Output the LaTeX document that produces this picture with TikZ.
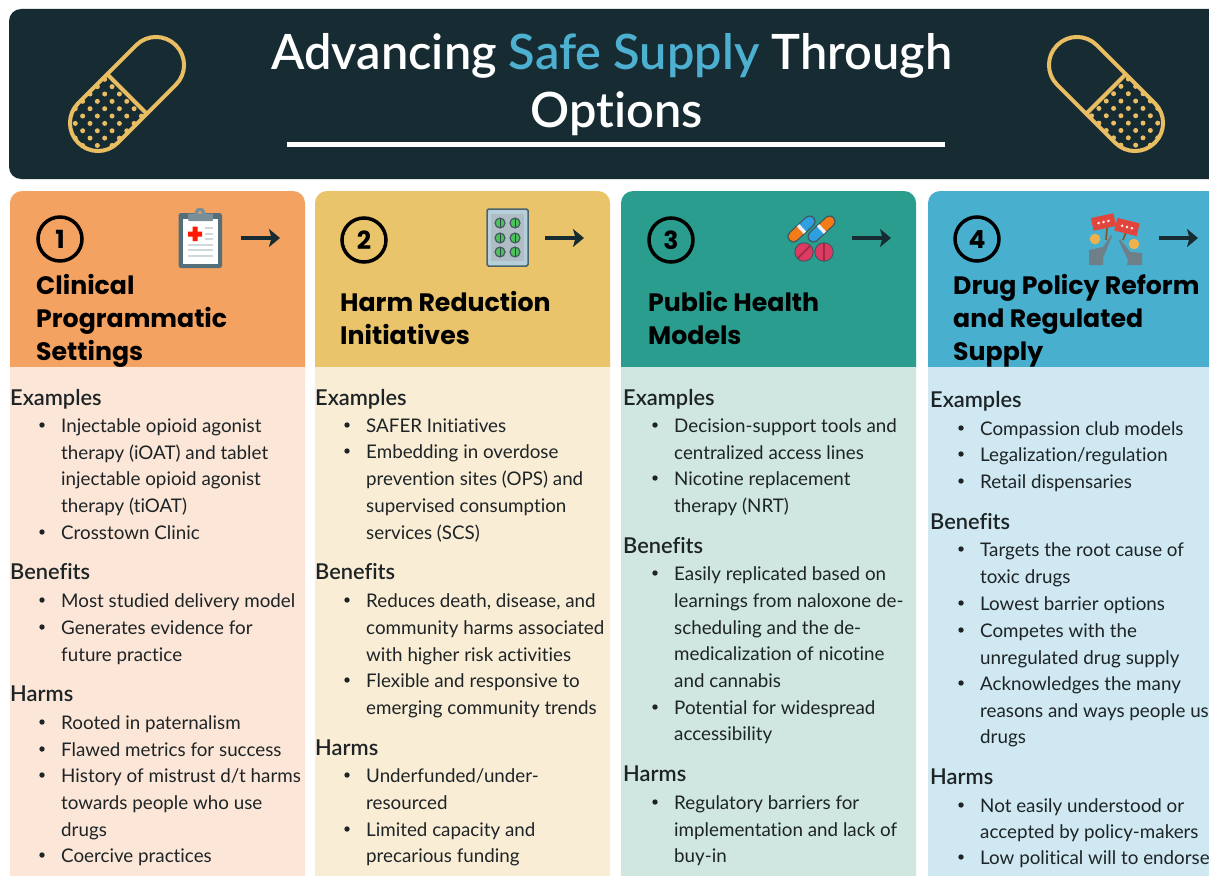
\documentclass[tikz,border=0pt]{standalone}
\usepackage{fontspec}
\setmainfont{Lato}[Ligatures=NoCommon]
\newfontfamily\medfont{Lato Semibold}[Ligatures=NoCommon]
\newfontfamily\popfont{Poppins}[BoldFont=Poppins Bold]
\definecolor{dark}{HTML}{172B33}
\definecolor{gold}{HTML}{E9BE62}
\definecolor{skyc}{HTML}{4DB0D0}
\definecolor{hA}{HTML}{F4A261}\definecolor{bA}{HTML}{FBE6D7}
\definecolor{hB}{HTML}{E9C46A}\definecolor{bB}{HTML}{F9EDD6}
\definecolor{hC}{HTML}{2A9D8F}\definecolor{bC}{HTML}{CFE6E1}
\definecolor{hD}{HTML}{48AFCF}\definecolor{bD}{HTML}{CFE8F1}
\definecolor{ink}{HTML}{1E2426}
\definecolor{slate}{HTML}{546E7A}
\definecolor{linegrey}{HTML}{CFD8DC}
\definecolor{crimson}{HTML}{DF3A62}
\definecolor{signred}{HTML}{E2453C}
\definecolor{bodygrey}{HTML}{6F7F88}
\definecolor{pillgreen}{HTML}{4CC35A}
\definecolor{capblue}{HTML}{2E9FE0}
\definecolor{caporange}{HTML}{F47B16}
\usetikzlibrary{arrows.meta}
\newcounter{tl}
\newcommand{\tl}[3]{\stepcounter{tl}\node[bodytext] (tl\arabic{tl}) at (#1,#2+7) {#3};}
\newcommand{\sect}[3]{\stepcounter{tl}\node[secttext] (tl\arabic{tl}) at (#1,#2+7) {#3};}
\newcommand{\bl}[3]{\fill[ink] (#1-19,#2) circle[radius=2.7pt];\tl{#1}{#2}{#3}}
\newcommand{\hd}[3]{\stepcounter{tl}\node[headtext] (tl\arabic{tl}) at (#1,#2+9) {#3};}
\newcommand{\panel}[5]{%
  \fill[#4,rounded corners=12pt] (#1,875+20) rectangle (#2,340);
  \fill[#3,rounded corners=12pt] (#1,380) rectangle (#2,191);
  \fill[#3] (#1,367) rectangle (#2,350);
  \fill[#4] (#1,367) rectangle (#2,385);}
\newcommand{\num}[4]{\node[numcirc] (#1) at (#2,#3) {#4};}
\newcommand{\arr}[3]{\coordinate (#1a) at (#2,#3);\coordinate (#1b) at (#2+39,#3);
  \draw[arrowline] (#1a) -- (#1b);}
\tikzset{
  bodytext/.style={anchor=base west,inner sep=0pt,text=ink,font=\fontsize{18.78}{22}\selectfont},
  secttext/.style={anchor=base west,inner sep=0pt,text=ink,font=\fontsize{21.8}{24}\medfont},
  headtext/.style={anchor=base west,inner sep=0pt,text=black,font=\fontsize{25.2}{30}\popfont\bfseries},
  numcirc/.style={circle,draw=black,line width=3.5pt,minimum size=44pt,inner sep=0pt,text=black,font=\fontsize{25}{30}\popfont\bfseries},
  arrowline/.style={draw=dark,line width=3.4pt,-{Stealth[length=11pt,width=18pt,inset=2.5pt]}},
  titletext/.style={anchor=base,inner sep=0pt,text=white,font=\fontsize{48.7}{58}\medfont},
  pillline/.style={draw=gold,line width=4pt},
}
\begin{document}
\begin{tikzpicture}[x=1pt,y=-1pt]
\useasboundingbox (0,0) rectangle (1209,875);
\clip (0,0) rectangle (1209,875);
\fill[white] (0,0) rectangle (1209,875);
% title bar
\fill[dark,rounded corners=12pt] (9,9) rectangle (1240,179);
\node[titletext] (t1) at (612,70) {Advancing \textcolor{skyc}{Safe Supply} Through};
\node[titletext] (t2) at (617,127) {Options};
\fill[white] (287,141.5) rectangle (945,147);
% left pill
\begin{scope}
\clip[shift={(127,94)},rotate=45] (0,-28) -- (-41,-28) arc[start angle=90,end angle=270,radius=28pt] -- (0,28) -- cycle;
\foreach \j in {-2,...,12}{\foreach \i in {-6,...,4}{
  \fill[gold] (104.7+14.7*\i+7.35*\j,79.3+7.35*\j) circle[radius=2.5pt];}}
\end{scope}
\draw[pillline,shift={(127,94)},rotate=45,rounded corners=27.9pt] (-69,-28) rectangle (69,28);
\draw[pillline,shift={(127,94)},rotate=45] (0,-28) -- (0,28);
% right pill
\begin{scope}
\clip[shift={(1106,94)},rotate=-45] (0,-28) -- (41,-28) arc[start angle=90,end angle=-90,radius=28pt] -- (0,28) -- cycle;
\foreach \j in {-2,...,12}{\foreach \i in {-6,...,4}{
  \fill[gold] (1128.3+14.7*\i+7.35*\j,79+7.35*\j) circle[radius=2.5pt];}}
\end{scope}
\draw[pillline,shift={(1106,94)},rotate=-45,rounded corners=27.9pt] (-69,-28) rectangle (69,28);
\draw[pillline,shift={(1106,94)},rotate=-45] (0,-28) -- (0,28);
% panels
\panel{10}{305}{hA}{bA}{}
\panel{315}{610}{hB}{bB}{}
\panel{621}{916}{hC}{bC}{}
\panel{928}{1240}{hD}{bD}{}
\num{n1}{60}{239}{1}\num{n2}{364}{240}{2}\num{n3}{671}{240}{3}\num{n4}{977}{239}{4}
\arr{aA}{241}{238}\arr{aB}{545}{238}\arr{aC}{852}{238}\arr{aD}{1159}{238}
% clipboard
\fill[slate,rounded corners=2.5pt] (178.5,213) rectangle (222,268);
\fill[white] (183,219) rectangle (217.5,264);
\fill[slate!70!linegrey] (200,213) circle[radius=5.5pt];
\fill[slate!70!linegrey,rounded corners=1pt] (188,213.5) rectangle (213,221);
\fill[hA] (200,212.5) circle[radius=1.7pt];
\fill[red!80!orange] (192.5,226.5) rectangle (197.5,241) (188,231.5) rectangle (202,236.5);
\foreach \yy in {228,233.5,239}{\fill[linegrey] (205,\yy-1) rectangle (212.5,\yy+1);}
\foreach \yy in {245,250,256}{\fill[linegrey] (188,\yy-1) rectangle (212.5,\yy+1);}
% blister
\draw[draw=slate!90!black,fill=linegrey!80!skyc,line width=1.5pt,rounded corners=1.5pt] (487,209) rectangle (528,266);
\fill[slate!25!linegrey] (491,214) rectangle (524,261);
\foreach \xx in {500,515}{\foreach \yy in {223,238,252}{
  \fill[slate!80!black] (\xx,\yy) circle[radius=5.6pt];
  \fill[pillgreen] (\xx,\yy) circle[radius=4.2pt];
  \draw[slate!60!black,line width=.9pt] (\xx,\yy-4.2) -- (\xx,\yy+4.2);}}
% capsules
\begin{scope}[shift={(801.5,229)},rotate=43]
\fill[slate!80!black,rounded corners=5.9pt] (-17,-6) rectangle (17,6);
\fill[caporange,rounded corners=4.6pt] (-15.7,-4.7) rectangle (0,4.7);
\fill[caporange] (-5,-4.7) rectangle (0,4.7);
\fill[capblue,rounded corners=4.6pt] (0,-4.7) rectangle (15.7,4.7);
\fill[capblue] (0,-4.7) rectangle (5,4.7);
\fill[white!90!slate] (-1.7,-5) rectangle (1.7,5);
\end{scope}
\begin{scope}[shift={(821.5,229)},rotate=43]
\fill[slate!80!black,rounded corners=5.9pt] (-17,-6) rectangle (17,6);
\fill[capblue,rounded corners=4.6pt] (-15.7,-4.7) rectangle (0,4.7);
\fill[capblue] (-5,-4.7) rectangle (0,4.7);
\fill[caporange,rounded corners=4.6pt] (0,-4.7) rectangle (15.7,4.7);
\fill[caporange] (0,-4.7) rectangle (5,4.7);
\fill[white!90!slate] (-1.7,-5) rectangle (1.7,5);
\end{scope}
\draw[fill=crimson,draw=slate!80!black,line width=1pt] (804,252) circle[radius=9.2pt];
\draw[crimson!70!black,line width=1.6pt] (798,258) -- (810,246);
\draw[fill=crimson,draw=slate!80!black,line width=1pt] (824,252) circle[radius=9.2pt];
\draw[crimson!70!black,line width=1.6pt] (824,243) -- (824,261);
% protest
\fill[bodygrey] (1089,250) -- (1103,247) -- (1111,235) -- (1112,236) -- (1103,258) -- (1103,265) -- (1089,265) -- cycle;
\fill[bodygrey] (1142,253) -- (1130,252) -- (1120,239) -- (1119,241) -- (1128,260) -- (1127,265) -- (1142,265) -- cycle;
\draw[draw=brown!70!black,line width=1.8pt] (1107,228) -- (1106,240);
\draw[draw=brown!70!black,line width=1.8pt] (1126,232) -- (1123,240);
\fill[signred,shift={(1103.5,222)},rotate=12] (-11.5,-6.5) rectangle (11.5,6.5);
\fill[signred,shift={(1127,227)},rotate=-14] (-11.5,-6.5) rectangle (11.5,6.5);
\foreach \d in {-5,0,5}{\fill[white!85!signred,shift={(1103.5,222)},rotate=12] (\d,0) circle[radius=1.5pt];
\fill[white!85!signred,shift={(1127,227)},rotate=-14] (\d,0) circle[radius=1.5pt];}
\fill[gold!80!orange] (1095,239) circle[radius=5.3pt];
\fill[gold!80!orange] (1134,244) circle[radius=5.3pt];
% headings
\hd{36}{285}{Clinical}\hd{36}{318}{Programmatic}\hd{36}{351}{Settings}
\hd{340}{302}{Harm Reduction}\hd{340}{335}{Initiatives}
\hd{648}{302}{Public Health}\hd{648}{335}{Models}
\hd{953}{285}{Drug Policy Reform}\hd{953}{318}{and Regulated}\hd{953}{351}{Supply}
% column 1
\sect{10}{398}{Examples}
\bl{61}{425}{Injectable opioid agonist}\tl{61}{452}{therapy (iOAT) and tablet}\tl{61}{478}{injectable opioid agonist}\tl{61}{505}{therapy (tiOAT)}
\bl{61}{532}{Crosstown Clinic}
\sect{10}{572}{Benefits}
\bl{61}{600}{Most studied delivery model}\bl{61}{627}{Generates evidence for}\tl{61}{654}{future practice}
\sect{10}{694}{Harms}
\bl{61}{722}{Rooted in paternalism}\bl{61}{749}{Flawed metrics for success}\bl{61}{775}{History of mistrust d/t harms}\tl{61}{802}{towards people who use}\tl{61}{829}{drugs}\bl{61}{855}{Coercive practices}
% column 2
\sect{315}{398}{Examples}
\bl{366}{425}{SAFER Initiatives}\bl{366}{451}{Embedding in overdose}\tl{366}{478}{prevention sites (OPS) and}\tl{366}{505}{supervised consumption}\tl{366}{532}{services (SCS)}
\sect{315}{572}{Benefits}
\bl{366}{600}{Reduces death, disease, and}\tl{366}{627}{community harms associated}\tl{366}{654}{with higher risk activities}\bl{366}{680}{Flexible and responsive to}\tl{366}{707}{emerging community trends}
\sect{315}{748}{Harms}
\bl{366}{775}{Underfunded/under-}\tl{366}{802}{resourced}\bl{366}{829}{Limited capacity and}\tl{366}{855}{precarious funding}
% column 3
\sect{623}{398}{Examples}
\bl{674}{425}{Decision-support tools and}\tl{674}{452}{centralized access lines}\bl{674}{478}{Nicotine replacement}\tl{674}{505}{therapy (NRT)}
\sect{623}{546}{Benefits}
\bl{674}{573}{Easily replicated based on}\tl{674}{600}{learnings from naloxone de-}\tl{674}{627}{scheduling and the de-}\tl{674}{653}{medicalization of nicotine}\tl{674}{680}{and cannabis}\bl{674}{707}{Potential for widespread}\tl{674}{733}{accessibility}
\sect{623}{774}{Harms}
\bl{674}{802}{Regulatory barriers for}\tl{674}{829}{implementation and lack of}\tl{674}{855}{buy-in}
% column 4
\sect{930}{400}{Examples}
\bl{980}{428}{Compassion club models}\bl{980}{454}{Legalization/regulation}\bl{980}{481}{Retail dispensaries}
\sect{930}{522}{Benefits}
\bl{980}{549}{Targets the root cause of}\tl{980}{576}{toxic drugs}\bl{980}{603}{Lowest barrier options}\bl{980}{630}{Competes with the}\tl{980}{657}{unregulated drug supply}\bl{980}{683}{Acknowledges the many}\tl{980}{710}{reasons and ways people use}\tl{980}{736}{drugs}
\sect{930}{777}{Harms}
\bl{980}{805}{Not easily understood or}\tl{980}{831}{accepted by policy-makers}\bl{980}{857}{Low political will to endorse}
\end{tikzpicture}
\end{document}
